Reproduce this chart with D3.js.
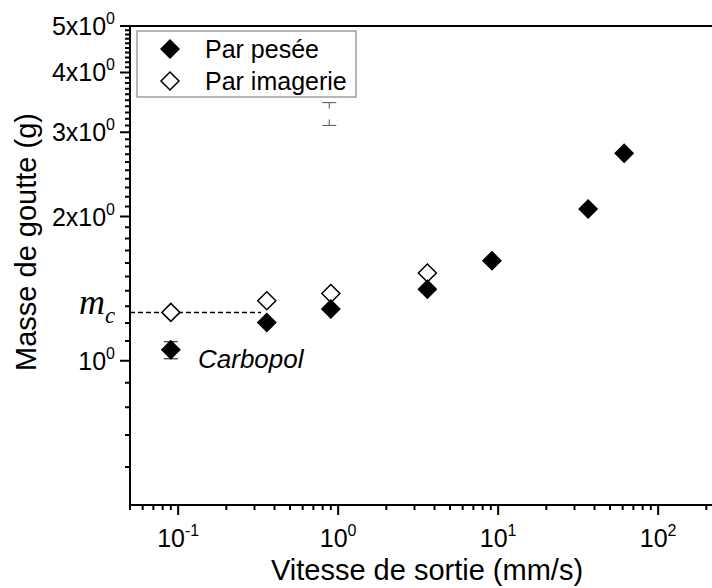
<!DOCTYPE html>
<html>
<head>
<meta charset="utf-8">
<script src="https://cdn.jsdelivr.net/npm/d3@7"></script>
<style>
  html, body { margin: 0; padding: 0; background: #fff; }
  svg { display: block; font-family: "Liberation Sans", Arial, sans-serif; }
</style>
</head>
<body>
<svg id="chart" width="712" height="588"></svg>
<script>
// Outflow speed (mm/s) and drop mass (g)
const speedWeighed = [0.09, 0.358, 0.90, 3.61, 9.14, 36.5, 61.3];
const massWeighed  = [1.054, 1.202, 1.283, 1.41, 1.618, 2.075, 2.713];
const errWeighedLow  = [1.01, null, null, null, null, null, null];
const errWeighedHigh = [1.096, null, null, null, null, null, null];

const speedImaging = [0.09, 0.358, 0.90, 3.61];
const massImaging  = [1.262, 1.335, 1.382, 1.525];

// error bar left without its marker
const strayErrX = [0.88];
const strayErrLow = [3.10];
const strayErrHigh = [3.46];

// critical mass m_c
const criticalMass = 1.262;
const criticalLineEnd = 0.33;

const xMajorTicks = [0.1, 1, 10, 100];
const xTickExp = ["-1", "0", "1", "2"];
const yMajorTicks = [1, 2, 3, 4, 5];
const yTickLabels = ["10", "2x10", "3x10", "4x10", "5x10"];

const legendLabels = ["Par pesée", "Par imagerie"];
const xTitle = "Vitesse de sortie (mm/s)";
const yTitle = "Masse de goutte (g)";
const annotation = "Carbopol";

const svg = d3.select("#chart");
const plotLeft = 130, plotTop = 26, plotBottom = 505, plotRight = 770;

const x = d3.scaleLog().domain([0.05, 500]).range([plotLeft, plotRight]);
const y = d3.scaleLog().domain([0.5, 5]).range([plotBottom, plotTop]);

// minor tick values
const xMinor = [];
for (let e = -2; e <= 2; e++) for (let m = 2; m <= 9; m++) {
  const v = m * Math.pow(10, e);
  if (v >= 0.05 && v <= 500) xMinor.push(v);
}
const yMinor = [];
for (let k = 6; k <= 49; k++) {
  const v = k / 10;
  if (k % 10 !== 0 && v >= 0.5 && v <= 5) yMinor.push(v);
}

// tick marks drawn as one path per group
const tickPath = (vals, len, horiz) => vals.map(v => horiz
  ? `M${x(v)},${plotBottom}V${plotBottom + len}`
  : `M${plotLeft},${y(v)}H${plotLeft - len}`).join("");
svg.append("path").attr("d", tickPath(xMinor, 5, true))
  .attr("fill", "none").attr("stroke", "#000").attr("stroke-width", 2);
svg.append("path").attr("d", tickPath(xMajorTicks, 10, true))
  .attr("fill", "none").attr("stroke", "#000").attr("stroke-width", 2);
svg.append("path").attr("d", tickPath(yMinor, 5, false))
  .attr("fill", "none").attr("stroke", "#000").attr("stroke-width", 2);
svg.append("path").attr("d", tickPath(yMajorTicks, 10, false))
  .attr("fill", "none").attr("stroke", "#000").attr("stroke-width", 2);

// tick labels
svg.append("g").selectAll("text").data(xMajorTicks).join("text")
  .attr("x", d => x(d)).attr("y", plotBottom + 42)
  .attr("text-anchor", "middle").attr("font-size", 25)
  .each(function(d, i) {
    const t = d3.select(this);
    t.append("tspan").text("10");
    t.append("tspan").attr("dy", -11).attr("font-size", 16).text(xTickExp[i]);
  });
svg.append("g").selectAll("text").data(yMajorTicks).join("text")
  .attr("x", plotLeft - 15).attr("y", d => y(d) + 9)
  .attr("text-anchor", "end").attr("font-size", 25)
  .each(function(d, i) {
    const t = d3.select(this);
    t.append("tspan").text(yTickLabels[i]);
    t.append("tspan").attr("dy", -11).attr("font-size", 16).text("0");
  });

// frame lines
const frameLines = svg.append("g").attr("stroke", "#000").attr("stroke-width", 2);
frameLines.append("line").attr("x1", plotLeft).attr("x2", 712).attr("y1", plotTop).attr("y2", plotTop);
frameLines.append("line").attr("x1", plotLeft).attr("x2", 712).attr("y1", plotBottom).attr("y2", plotBottom);
frameLines.append("line").attr("x1", plotLeft).attr("x2", plotLeft).attr("y1", plotTop - 1).attr("y2", plotBottom + 1);

// axis titles
svg.append("text")
  .attr("x", 427).attr("y", 580).attr("text-anchor", "middle")
  .attr("font-size", 29).text(xTitle);
svg.append("text")
  .attr("transform", `translate(36,242) rotate(-90)`)
  .attr("text-anchor", "middle").attr("font-size", 29).text(yTitle);

// m_c dashed line
svg.append("line")
  .attr("x1", plotLeft).attr("x2", x(criticalLineEnd))
  .attr("y1", y(criticalMass)).attr("y2", y(criticalMass))
  .attr("stroke", "#000").attr("stroke-width", 1.5)
  .attr("stroke-dasharray", "5,3");
const mc = svg.append("text")
  .attr("x", 79).attr("y", y(criticalMass) + 2)
  .attr("font-family", "'Liberation Serif', 'Times New Roman', serif")
  .attr("font-style", "italic").attr("font-size", 36);
mc.append("tspan").text("m");
mc.append("tspan").attr("dy", 9).attr("font-size", 23).text("c");

// diamond shape
const diamond = r => `M0,${-r}L${r},0L0,${r}L${-r},0Z`;

// error bars
function errorBar(xv, lo, hi, color, lw, stub) {
  const g = svg.append("g").attr("stroke", color).attr("stroke-width", lw);
  const cx = x(xv), yh = y(hi), yl = y(lo);
  if (stub) {
    g.append("line").attr("x1", cx).attr("x2", cx).attr("y1", yh).attr("y2", yh + stub);
    g.append("line").attr("x1", cx).attr("x2", cx).attr("y1", yl - stub).attr("y2", yl);
  } else {
    g.append("line").attr("x1", cx).attr("x2", cx).attr("y1", yh).attr("y2", yl);
  }
  g.append("line").attr("x1", cx - 7).attr("x2", cx + 7).attr("y1", yh).attr("y2", yh);
  g.append("line").attr("x1", cx - 7).attr("x2", cx + 7).attr("y1", yl).attr("y2", yl);
}
speedWeighed.forEach((s, i) => {
  if (errWeighedLow[i] != null) errorBar(s, errWeighedLow[i], errWeighedHigh[i], "#333", 1.2, 0);
});
strayErrX.forEach((s, i) => errorBar(s, strayErrLow[i], strayErrHigh[i], "#666", 1.1, 6));

// open diamonds (imaging)
svg.append("g").selectAll("path")
  .data(speedImaging.map((s, i) => [s, massImaging[i]]))
  .join("path")
  .attr("transform", d => `translate(${x(d[0])},${y(d[1])})`)
  .attr("d", diamond(9))
  .attr("fill", "#fff").attr("stroke", "#000").attr("stroke-width", 1.5);

// filled diamonds (weighing)
svg.append("g").selectAll("path")
  .data(speedWeighed.map((s, i) => [s, massWeighed[i]]))
  .join("path")
  .attr("transform", d => `translate(${x(d[0])},${y(d[1])})`)
  .attr("d", diamond(10))
  .attr("fill", "#000");

// annotation
svg.append("text")
  .attr("x", 198).attr("y", 368).attr("font-size", 26)
  .attr("font-style", "italic").text(annotation);

// legend
const lg = svg.append("g");
lg.append("rect").attr("x", 137).attr("y", 31).attr("width", 219).attr("height", 66)
  .attr("fill", "#fff").attr("stroke", "#888").attr("stroke-width", 1.2);
lg.append("path").attr("transform", "translate(170,49)").attr("d", diamond(10)).attr("fill", "#000");
lg.append("path").attr("transform", "translate(170,81)").attr("d", diamond(9))
  .attr("fill", "#fff").attr("stroke", "#000").attr("stroke-width", 1.5);
legendLabels.forEach((t, i) => {
  lg.append("text").attr("x", 205).attr("y", 58 + i * 32).attr("font-size", 25).text(t);
});
</script>
</body>
</html>
